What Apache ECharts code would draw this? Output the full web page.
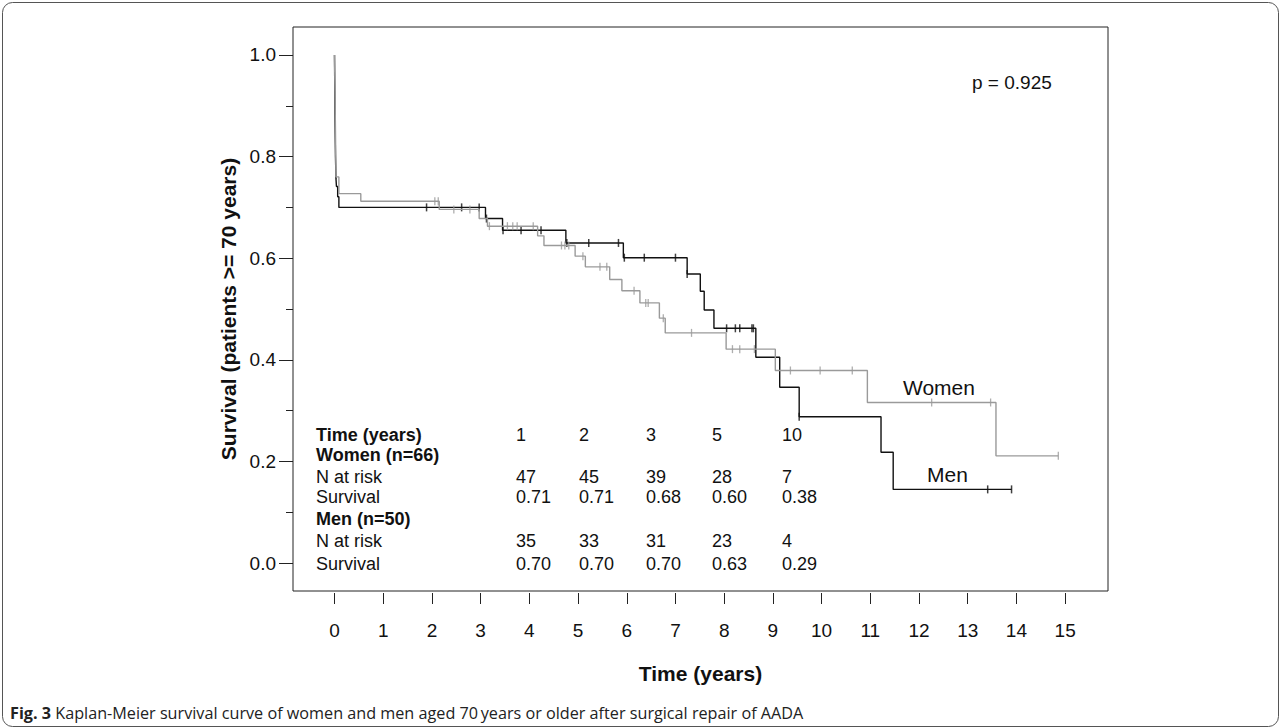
<!DOCTYPE html>
<html><head><meta charset="utf-8">
<script src="https://cdn.jsdelivr.net/npm/echarts@6/dist/echarts.min.js"></script>
<style>html,body{margin:0;padding:0;background:#fff}#c{width:1281px;height:728px}</style>
</head><body><div id="c"></div>
<script>
// ---- data ----
const xTicks = [0,1,2,3,4,5,6,7,8,9,10,11,12,13,14,15];
const yTicks = [0,0.2,0.4,0.6,0.8,1.0];
const yMinorTicks = [0.1,0.3,0.5,0.7,0.9];

const womenTime = [0,0.01,0.02,0.03,0.09,0.54,2.15,2.97,3.14,4.17,4.30,4.94,5.15,5.65,5.90,6.27,6.67,6.79,8.04,9.05,10.94,13.58,14.86];
const womenSurv = [1.0,0.93,0.85,0.76,0.727,0.712,0.696,0.678,0.663,0.644,0.625,0.604,0.583,0.558,0.536,0.512,0.482,0.453,0.421,0.379,0.316,0.211,0.211];
const womenCensorTime = [2.06,2.13,2.45,2.78,3.18,3.55,3.66,3.75,4.08,4.66,4.73,4.81,5.10,5.45,5.59,6.15,6.39,6.44,6.75,7.33,8.17,8.32,8.62,9.36,9.97,10.63,12.26,13.47,14.86];
const womenCensorSurv = [0.712,0.712,0.696,0.696,0.663,0.663,0.663,0.663,0.663,0.625,0.625,0.625,0.604,0.583,0.583,0.536,0.512,0.512,0.482,0.453,0.421,0.421,0.421,0.379,0.379,0.379,0.316,0.316,0.211];

const menTime = [0,0.01,0.02,0.03,0.04,0.065,0.09,3.10,3.45,4.75,5.93,7.24,7.51,7.59,7.79,8.65,9.14,9.54,11.22,11.47,13.90];
const menSurv = [1.0,0.88,0.80,0.757,0.741,0.721,0.70,0.678,0.655,0.630,0.601,0.569,0.535,0.498,0.462,0.405,0.346,0.288,0.218,0.145,0.145];
const menCensorTime = [1.89,2.61,2.97,3.12,3.46,3.83,4.24,4.77,5.22,5.83,5.95,6.36,7.00,7.24,8.05,8.23,8.32,8.57,8.60,9.54,13.41,13.90];
const menCensorSurv = [0.70,0.70,0.70,0.678,0.655,0.655,0.655,0.630,0.630,0.630,0.601,0.601,0.601,0.569,0.462,0.462,0.462,0.462,0.462,0.288,0.145,0.145];

const tableTimes = ['1','2','3','5','10'];
const womenAtRisk = ['47','45','39','28','7'];
const womenSurvTable = ['0.71','0.71','0.68','0.60','0.38'];
const menAtRisk = ['35','33','31','23','4'];
const menSurvTable = ['0.70','0.70','0.70','0.63','0.29'];
const pValueText = 'p = 0.925';

// ---- chart ----
const FONT = "'Liberation Sans', Arial, sans-serif";
const zip = (a,b) => a.map((v,i)=>[v,b[i]]);
const chart = echarts.init(document.getElementById('c'), null, {renderer:'svg'});

const colX = [516, 579, 646, 712, 782];
const labelX = 316;
const rowY = [435, 455, 477, 497, 519, 541, 564];
const tableRows = [
  {label:'Time (years)', bold:true, vals:tableTimes},
  {label:'Women (n=66)', bold:true, vals:null},
  {label:'N at risk', bold:false, vals:womenAtRisk},
  {label:'Survival', bold:false, vals:womenSurvTable},
  {label:'Men (n=50)', bold:true, vals:null},
  {label:'N at risk', bold:false, vals:menAtRisk},
  {label:'Survival', bold:false, vals:menSurvTable}
];
const graphics = [];
function txt(text, x, y, size, bold, align){
  graphics.push({type:'text', silent:true, style:{text:text, x:x, y:y,
    font:(bold?'bold ':'')+size+'px '+FONT, fill:'#111',
    textAlign:align||'left', align:align||'left', textVerticalAlign:'middle', verticalAlign:'middle'}});
}
tableRows.forEach((r,i)=>{
  txt(r.label, labelX, rowY[i], 18, r.bold);
  if(r.vals) r.vals.forEach((v,j)=>txt(v, colX[j], rowY[i], 18, false));
});
txt(pValueText, 972, 82, 19, false);
txt('Women', 903, 387, 21, false);
txt('Men', 927, 474, 21, false);
graphics.push({type:'text', silent:true, style:{
  text:'{b|Fig. 3} Kaplan-Meier survival curve of women and men aged 70\u2009years or older after surgical repair of AADA',
  x:10, y:713, font:"16.2px 'Open Sans', sans-serif", fill:'#222',
  textVerticalAlign:'middle', verticalAlign:'middle',
  rich:{b:{font:"bold 16.2px 'Open Sans', sans-serif", fill:'#222'}}}});
graphics.push({type:'rect', silent:true, shape:{x:2.5,y:2.5,width:1276,height:724,r:10},
  style:{fill:'none', stroke:'#555', lineWidth:1}});

const xMin = -0.852, xMax = 15.88, yMin = -0.055, yMax = 1.055;
chart.setOption({
  animation:false,
  grid:{left:293, top:27, width:815, height:564, show:true, borderColor:'#222', borderWidth:1, backgroundColor:'rgba(0,0,0,0)'},
  xAxis:{type:'value', min:xMin, max:xMax, offset:2, position:'bottom',
    axisLine:{show:false, onZero:false}, splitLine:{show:false},
    axisTick:{show:true, length:11, customValues:xTicks, lineStyle:{color:'#222'}},
    axisLabel:{customValues:xTicks, fontSize:19, color:'#111', margin:28, fontFamily:FONT},
    name:'Time (years)', nameLocation:'middle', nameGap:70,
    nameTextStyle:{fontSize:21, fontWeight:'bold', color:'#111', fontFamily:FONT}},
  yAxis:[
    {type:'value', min:yMin, max:yMax, position:'left',
      axisLine:{show:false, onZero:false}, splitLine:{show:false},
      axisTick:{show:true, length:14, customValues:yTicks, lineStyle:{color:'#222'}},
      axisLabel:{customValues:yTicks, formatter:v=>Number(v).toFixed(1), fontSize:19, color:'#111', margin:17, fontFamily:FONT},
      name:'Survival (patients >= 70 years)', nameLocation:'middle', nameGap:52,
      nameTextStyle:{fontSize:21, fontWeight:'bold', color:'#111', fontFamily:FONT}},
    {type:'value', min:yMin, max:yMax, position:'left',
      axisLine:{show:false, onZero:false}, splitLine:{show:false},
      axisTick:{show:true, length:7, customValues:yMinorTicks, lineStyle:{color:'#222'}},
      axisLabel:{show:false}}
  ],
  graphic:graphics,
  series:[
    {type:'line', step:'end', data:zip(menTime, menSurv), showSymbol:false, yAxisIndex:0,
      lineStyle:{color:'#111', width:1.4}, z:2, silent:true},
    {type:'scatter', data:zip(menCensorTime, menCensorSurv), symbol:'rect', symbolSize:[1.5,8], yAxisIndex:0,
      itemStyle:{color:'#111'}, z:3, silent:true},
    {type:'line', step:'end', data:zip(womenTime, womenSurv), showSymbol:false, yAxisIndex:0,
      lineStyle:{color:'#9a9a9a', width:1.4}, z:4, silent:true},
    {type:'scatter', data:zip(womenCensorTime, womenCensorSurv), symbol:'rect', symbolSize:[1.3,8], yAxisIndex:0,
      itemStyle:{color:'#9a9a9a'}, z:5, silent:true}
  ]
});
</script>
</body></html>
